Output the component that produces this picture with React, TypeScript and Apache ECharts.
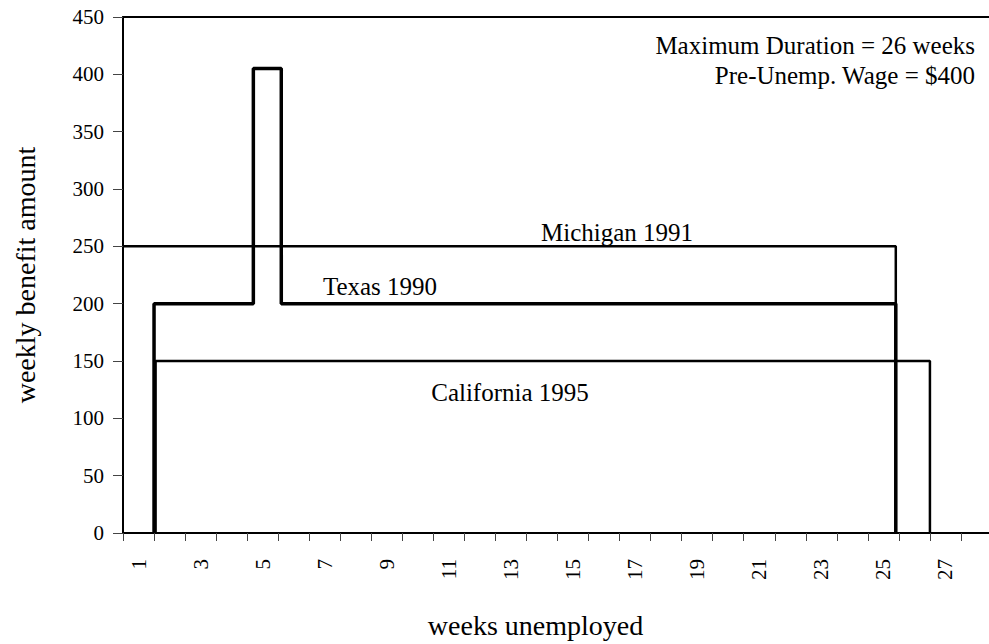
import React, { useEffect, useRef } from "react";
import * as echarts from "echarts";

const categories = ["1","2","3","4","5","6","7","8","9","10","11","12","13","14","15","16","17","18","19","20","21","22","23","24","25","26","27","28"];

// step lines: [week boundary, weekly benefit]
const michigan1991: [number, number][] = [[0, 250], [24.9, 250], [24.9, 0]];
const texas1990: [number, number][] = [[1, 0], [1, 200], [4.2, 200], [4.2, 405], [5.1, 405], [5.1, 200], [24.9, 200], [24.9, 0]];
const california1995: [number, number][] = [[1.05, 0], [1.05, 150], [26, 150], [26, 0]];

const seriesLabels = ["Michigan 1991", "Texas 1990", "California 1995"];
const notes = ["Maximum Duration = 26 weeks", "Pre-Unemp. Wage = $400"];

const FONT = "Liberation Serif";

export default function App() {
  const ref = useRef<HTMLDivElement>(null);
  useEffect(() => {
    document.body.style.margin = "0";
    const chart = echarts.init(ref.current!, null, { renderer: "svg" });
    const textStyle = (size: number) => ({ fontFamily: FONT, fontSize: size, fill: "#000" });
    chart.setOption({
      animation: false,
      backgroundColor: "#fff",
      textStyle: { fontFamily: FONT },
      grid: { left: 123, right: -3, top: 17, bottom: 111, outerBoundsMode: "none", containLabel: false },
      xAxis: [
        {
          type: "category",
          data: categories,
          boundaryGap: true,
          position: "bottom",
          axisLine: { show: true, lineStyle: { color: "#000", width: 2 } },
          axisTick: { show: true, interval: 0, length: 8, lineStyle: { color: "#444", width: 1 } },
          axisLabel: { interval: 1, rotate: 90, margin: 26, fontFamily: FONT, fontSize: 21, color: "#000" },
          splitLine: { show: false },
          name: "weeks unemployed",
          nameLocation: "middle",
          nameGap: 78,
          nameTextStyle: { fontFamily: FONT, fontSize: 28, color: "#000", padding: [0, 44, 0, 0] },
        },
        {
          type: "value",
          min: 0,
          max: 28,
          position: "top",
          axisLine: { show: true, lineStyle: { color: "#000", width: 2 } },
          axisTick: { show: false },
          axisLabel: { show: false },
          splitLine: { show: false },
        },
      ],
      yAxis: {
        type: "value",
        min: 0,
        max: 450,
        interval: 50,
        axisLine: { show: true, lineStyle: { color: "#000", width: 2 } },
        axisTick: { show: true, length: 10, lineStyle: { color: "#444", width: 1 } },
        axisLabel: { margin: 19, fontFamily: FONT, fontSize: 21, color: "#000" },
        splitLine: { show: false },
        name: "weekly benefit amount",
        nameLocation: "middle",
        nameGap: 84,
        nameTextStyle: { fontFamily: FONT, fontSize: 28, color: "#000" },
      },
      series: [
        { name: seriesLabels[0], type: "line", xAxisIndex: 1, data: michigan1991, symbol: "none", lineStyle: { color: "#000", width: 2.5 } },
        { name: seriesLabels[1], type: "line", xAxisIndex: 1, data: texas1990, symbol: "none", lineStyle: { color: "#000", width: 3.5 } },
        { name: seriesLabels[2], type: "line", xAxisIndex: 1, data: california1995, symbol: "none", lineStyle: { color: "#000", width: 2.5 } },
      ],
      graphic: [
        { type: "text", x: 975, y: 45, style: { ...textStyle(25), text: notes[0], textAlign: "right", textVerticalAlign: "middle" } },
        { type: "text", x: 975, y: 75, style: { ...textStyle(25), text: notes[1], textAlign: "right", textVerticalAlign: "middle" } },
        { type: "text", x: 617, y: 232, style: { ...textStyle(25), text: seriesLabels[0], textAlign: "center", textVerticalAlign: "middle" } },
        { type: "text", x: 380, y: 286, style: { ...textStyle(25), text: seriesLabels[1], textAlign: "center", textVerticalAlign: "middle" } },
        { type: "text", x: 510, y: 392, style: { ...textStyle(25), text: seriesLabels[2], textAlign: "center", textVerticalAlign: "middle" } },
      ],
    });
    return () => chart.dispose();
  }, []);
  return <div ref={ref} style={{ width: 989, height: 644 }} />;
}
